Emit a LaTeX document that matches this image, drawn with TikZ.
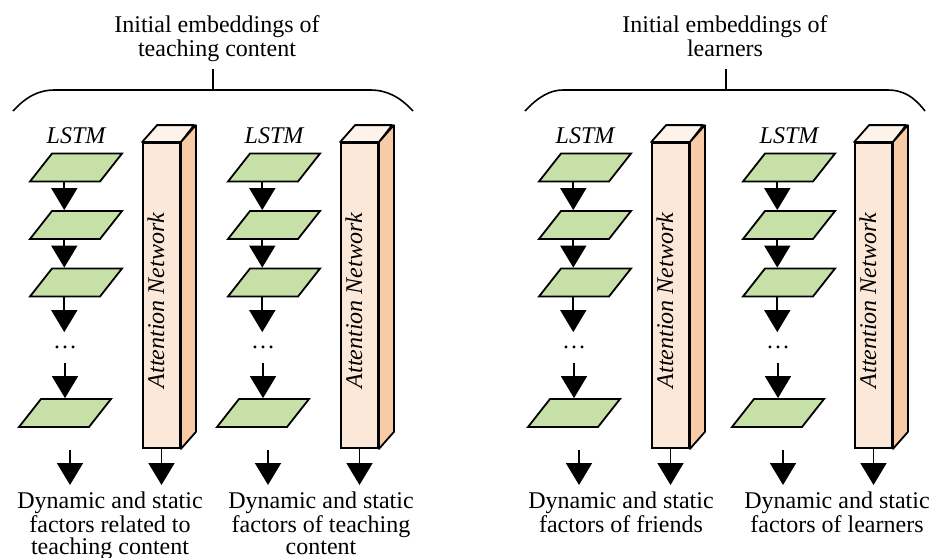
\documentclass[tikz,border=0pt]{standalone}
\usepackage{fontspec}
\setmainfont{Liberation Serif}
\usetikzlibrary{arrows.meta}

\definecolor{lstmgreen}{HTML}{C6E0A8}
\definecolor{attfront}{HTML}{FCE8D8}
\definecolor{atttop}{HTML}{FEF3EA}
\definecolor{attside}{HTML}{F7CBA6}

\tikzset{
  cell/.style={draw, fill=lstmgreen, line width=0.9pt, inner sep=0pt,
    minimum width=35pt, minimum height=14pt, xslant=0.786, transform shape},
  attbox/.style={draw, fill=attfront, line width=0.9pt, inner sep=0pt,
    minimum width=18.5pt, minimum height=152.5pt},
  face/.style={line width=0.9pt, line join=round},
  arr/.style={line width=0.9pt, -{Triangle[width=13pt,length=11pt]}},
  ital/.style={font=\fontsize{12}{14}\selectfont\itshape},
  caption/.style={align=center, inner sep=0pt, font=\fontsize{12}{10.75}\selectfont},
  heading/.style={align=center, inner sep=0pt, anchor=north, font=\fontsize{12}{9.5}\selectfont},
}

\begin{document}
\begin{tikzpicture}[x=0.5pt, y=-0.5pt]
    \useasboundingbox (0,0) rectangle (936,557);

    % Headings and their braces
    \node[heading] (h-teach) at (217,15.5) {Initial embeddings of\\teaching content};
    \node[heading] (h-learn) at (725,15.5) {Initial embeddings of\\learners};
    \coordinate (s-teach) at (213,90);
    \coordinate (s-learn) at (726,90);
    \draw[line width=0.8pt] (13,111) .. controls (26,97) and (38,90) .. (55,90) -- (370,90)
        .. controls (387,90) and (400,97) .. (413,111);
    \draw[line width=0.8pt] (525,111) .. controls (538,97) and (550,90) .. (563,90) -- (887,90)
        .. controls (904,90) and (914,97) .. (925,111);
    \draw[line width=0.8pt] (s-teach) -- ++(0,-21);
    \draw[line width=0.8pt] (s-learn) -- ++(0,-21);

    % One LSTM chain and one attention block per column
    \foreach \b/\a/\x/\txt [count=\i] in {
        30/143/110/{Dynamic and static\\factors related to\\teaching content},
        228/341/321/{Dynamic and static\\factors of teaching\\content},
        539/652/621/{Dynamic and static\\factors of friends},
        743/855/837/{Dynamic and static\\factors of learners}} {
      % LSTM cells
      \node[ital] (l-\i) at (\b+46,135.5) {LSTM};
      \node[cell] (c1-\i) at (\b+46,167.5) {};
      \node[cell] (c2-\i) at (\b+46,225) {};
      \node[cell] (c3-\i) at (\b+46,282.5) {};
      \node[inner sep=0pt, minimum height=15pt, font=\fontsize{12}{14}\selectfont] (d-\i) at (\b+35,347.5) {\dots};
      \node[cell] (c4-\i) at (\b+35,413) {};
      \draw[arr] (c1-\i.south) -- (c1-\i.south |- c2-\i.north);
      \draw[arr] (c2-\i.south) -- (c2-\i.south |- c3-\i.north);
      \draw[arr] (c3-\i.south) -- (c3-\i.south |- d-\i.north);
      \draw[arr] (d-\i.south) -- (d-\i.south |- c4-\i.north);
      \coordinate (o-\i) at (\b+40,450);
      \coordinate (ot-\i) at (\b+40,485);
      \draw[arr] (o-\i) -- (ot-\i);

      % Attention network block
      \node[attbox] (att-\i) at (\a+18.5,295.5) {};
      \filldraw[face, fill=atttop] (att-\i.north west) -- ++(15,-17) -- ++(37,0)
          -- (att-\i.north east) -- cycle;
      \filldraw[face, fill=attside] (att-\i.north east) -- ++(15,-17)
          -- ([shift={(15,-17)}]att-\i.south east) -- (att-\i.south east) -- cycle;
      \node[ital, rotate=90, inner sep=0pt] (an-\i) at (\a+13,300.5) {Attention Network};
      \draw[arr] (att-\i.south) -- (att-\i.south |- ot-\i);

      % Output factors
      \node[caption, anchor=north] (f-\i) at (\x,491.5) {\txt};
    }
\end{tikzpicture}
\end{document}
